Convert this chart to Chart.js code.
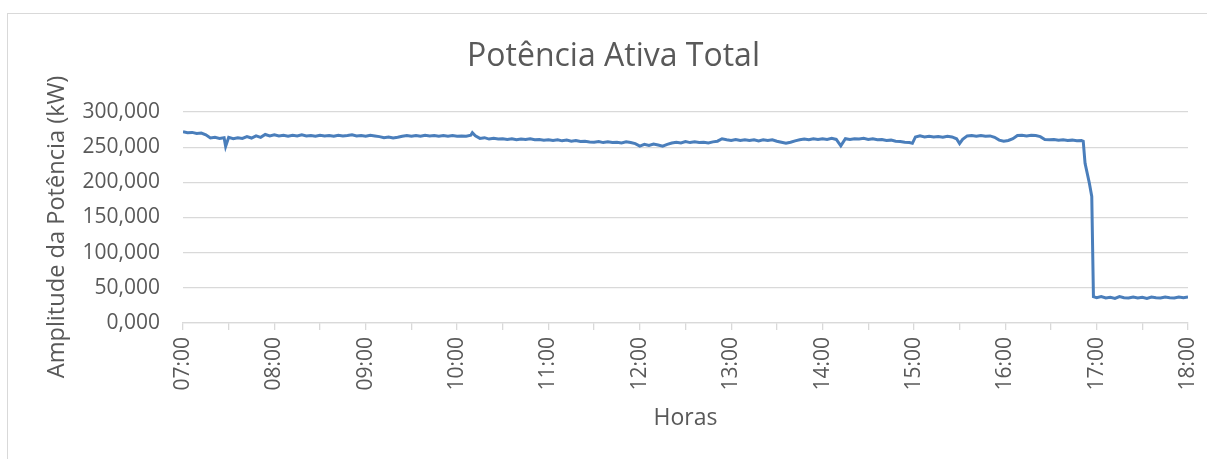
<!DOCTYPE html>
<html>
<head>
<meta charset="utf-8">
<script src="https://cdn.jsdelivr.net/npm/chart.js@4.4.1/dist/chart.umd.min.js"></script>
<style>
  html, body { margin: 0; padding: 0; background: #ffffff; overflow: hidden; }
  #frame { position: absolute; left: 7px; top: 13px; width: 1230px; height: 480px; border: 1px solid #d9d9d9; box-sizing: border-box; }
  #wrap { position: absolute; left: 0; top: 0; width: 1207px; height: 459px; }
</style>
</head>
<body>
<div id="frame"></div>
<div id="wrap"><canvas id="c" width="1207" height="459"></canvas></div>
<script>
// Minutes after 07:00
const minutes = [
  0,3,6,9,12,15,18,21,24,27,28,30,33,36,39,42,45,48,51,54,57,60,63,66,69,72,75,78,81,84,87,90,93,96,99,
  102,105,108,111,114,117,120,123,126,129,132,135,138,141,144,147,150,153,156,159,162,165,168,171,174,177,180,183,186,189,190,192,195,198,
  201,204,207,210,213,216,219,222,225,228,231,234,237,240,243,246,249,252,255,258,261,264,267,270,273,276,279,282,285,288,291,294,297,
  300,303,306,309,312,315,318,321,324,327,330,333,336,339,342,345,348,351,354,357,360,363,366,369,372,375,378,381,384,387,390,393,396,399,
  402,405,408,411,414,417,420,423,426,429,432,435,438,441,444,447,450,453,456,459,462,465,468,471,474,477,479,481,484,487,490,493,496,499,
  502,505,508,510,512,515,518,521,524,527,530,533,536,539,542,545,548,551,554,557,560,563,566,569,572,575,578,581,584,587,590,591.2,
  592.4,595.2,596.8,597.9,600,603,606,609,612,615,618,621,624,627,630,633,636,639,642,645,648,651,654,657,660
];
// Potência ativa total (kW)
const potencia = [
  272,270.5,271,269.5,270,267.5,263,264,262.5,263.5,251,264,262,263.5,262.5,265,263,266,264,268,266,267.5,266,267,265.5,267,266,267.5,266,266.5,265.5,267,266,266.5,265.5,
  267,266,266.5,267.5,266,266.5,265.5,267,266,265,263.5,264.5,263,264,265.5,266.5,265.5,266.5,265.5,267,266,266.5,265.5,266.5,265.5,266.5,265.5,266,265.5,267,270.5,266,262.5,263.5,
  261.5,262.5,261.5,262,261,262,260.5,261.5,261,262,260.5,261,260,260.5,259.5,260.5,259,260,258.5,259.5,258,258.5,257.5,257,258,256.5,257.5,256.5,257,256,257.5,256.5,255,
  251.5,254,252.5,254.5,253,251.5,254,256,257,256,258,256.5,257.5,256.5,257,256,257.5,258.5,262,260.5,259.5,261,259.5,260.5,259.5,260.5,259,260.5,259.5,260.5,258.5,257,255.5,257,
  259,260.5,261.5,260.5,262,261,262,261,262.5,261,252,262,261,262,261.5,262.5,261,262,260.5,261,259.5,260,258.5,258,257,256.5,255.5,264.5,266,264.5,265.5,264.5,265,264,
  265.5,264.5,262,255,261,266,266.5,265.5,266.5,265.5,266,264,260,258.5,259.5,262,266.5,267,266,267,266.5,265,261,260.5,261,260,260.5,259.5,260,259,259.5,258.5,
  227,199,180,37.5,36,37.5,35.5,36.5,35,37.5,36,35.5,37,35.5,36.5,35,37,36,35.5,37,36,35.5,37,36,37
];
const xTickMinutes = [0,30,60,90,120,150,180,210,240,270,300,330,360,390,420,450,480,510,540,570,600,630,660];
const hourLabels = ['07:00','08:00','09:00','10:00','11:00','12:00','13:00','14:00','15:00','16:00','17:00','18:00'];
const yTicks = [0,50,100,150,200,250,300];
const yAxisTitle = 'Amplitude da Potência (kW)';

const points = minutes.map((m, i) => ({ x: m, y: potencia[i] }));
const textColor = '#595959';
const gridColor = '#d9d9d9';

// Vertical axis title, centred on the chart frame (as in the original)
const yTitlePlugin = {
  id: 'yTitle',
  afterDraw(chart) {
    const ctx = chart.ctx;
    ctx.save();
    ctx.translate(57.5, 227);
    ctx.rotate(-Math.PI / 2);
    ctx.font = '23.6px "Open Sans"';
    ctx.fillStyle = textColor;
    ctx.textAlign = 'center';
    ctx.textBaseline = 'middle';
    ctx.fillText(yAxisTitle, 0, 0);
    ctx.restore();
  }
};

new Chart(document.getElementById('c'), {
  type: 'line',
  data: {
    datasets: [{
      data: points,
      borderColor: '#4a7ebb',
      borderWidth: 3,
      pointRadius: 0,
      tension: 0,
      fill: false
    }]
  },
  plugins: [yTitlePlugin],
  options: {
    responsive: false,
    animation: false,
    layout: { padding: { left: 39, right: 19, top: 0, bottom: 0 } },
    plugins: {
      legend: { display: false },
      tooltip: { enabled: false },
      title: {
        display: true,
        text: 'Potência Ativa Total',
        color: textColor,
        font: { family: 'Open Sans', size: 32, weight: 'normal' },
        padding: { top: 38, bottom: 35.6 }
      }
    },
    scales: {
      x: {
        type: 'linear',
        min: 0,
        max: 660,
        afterBuildTicks: (scale) => { scale.ticks = xTickMinutes.map(v => ({ value: v })); },
        afterFit: (scale) => { scale.height = 136; scale.paddingRight = 0; scale.paddingLeft = 0; },
        grid: { drawOnChartArea: false, drawTicks: true, tickLength: 7, color: gridColor, lineWidth: 1.3 },
        border: { display: true, color: gridColor, width: 1.3 },
        ticks: {
          autoSkip: false,
          minRotation: 90,
          maxRotation: 90,
          padding: 7,
          color: textColor,
          font: { family: 'Open Sans', size: 21 },
          callback: (v) => (v % 60 === 0 ? hourLabels[v / 60] : '')
        },
        title: {
          display: true,
          text: 'Horas',
          color: textColor,
          font: { family: 'Open Sans', size: 23 },
          padding: { top: 0, bottom: 26.5 }
        }
      },
      y: {
        min: 0,
        max: 300,
        afterBuildTicks: (scale) => { scale.ticks = yTicks.map(v => ({ value: v })); },
        afterFit: (scale) => { scale.width = 144; },
        grid: { drawTicks: false, color: gridColor, lineWidth: 1.3 },
        border: { display: false },
        ticks: {
          padding: 23,
          color: textColor,
          font: { family: 'Open Sans', size: 21 },
          callback: (v) => v.toFixed(3).replace('.', ',')
        },
        title: { display: false }
      }
    }
  }
});
</script>
</body>
</html>
